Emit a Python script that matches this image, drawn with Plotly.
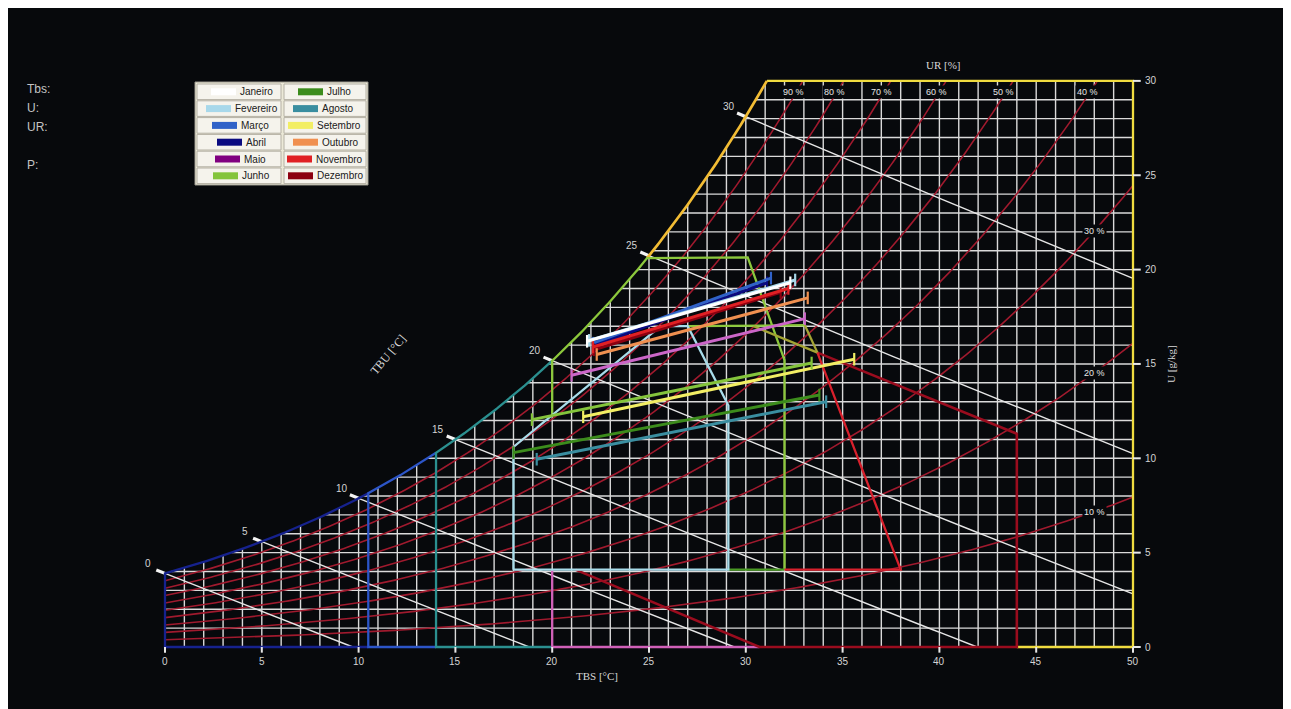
import numpy as np
import plotly.graph_objects as go

# ---------------- data ----------------
months = ["Janeiro", "Fevereiro", "Março", "Abril", "Maio", "Junho",
          "Julho", "Agosto", "Setembro", "Outubro", "Novembro", "Dezembro"]
month_colors = ["#ffffff", "#a8d8ea", "#3062c8", "#0a0a80", "#800080", "#84c43c",
                "#3c8c1c", "#3a8ea0", "#f2ee64", "#f09050", "#e02024", "#8c0010"]
month_line_colors = ["#ffffff", "#a8d8ea", "#3062c8", "#0a0a80", "#cc66c8", "#84c43c",
                     "#3c8c1c", "#3a8ea0", "#f2ee64", "#f09050", "#e02024", "#8c0010"]
tbs_min = [21.8, 21.9, 22.1, 22.2, 21.0, 18.95, 18.0, 19.2, 21.6, 22.3, 22.1, 22.15]
u_at_min = [16.2, 16.25, 16.1, 16.0, 14.4, 12.05, 10.3, 9.95, 12.2, 15.5, 15.9, 15.75]
tbs_max = [32.3, 32.55, 31.3, 31.1, 33.05, 33.4, 33.8, 34.15, 35.6, 33.2, 32.2, 31.8]
u_at_max = [19.3, 19.45, 19.55, 19.3, 17.4, 15.05, 13.35, 13.0, 15.25, 18.5, 19.0, 18.8]

tbs_ticks = [0, 5, 10, 15, 20, 25, 30, 35, 40, 45, 50]
u_ticks = [0, 5, 10, 15, 20, 25, 30]
tbu_values = [0, 5, 10, 15, 20, 25, 30]
rh_values = [10, 20, 30, 40, 50, 60, 70, 80, 90]
top_labels = ["Tbs:", "U:", "UR:", "", "P:"]

# zone outlines (TBS °C, U g/kg)
comfort_t = [18.0, 18.0, 25.6, 27.0, 29.1, 29.1, 18.0]
comfort_u = [4.1, 10.6, 17.0, 17.0, 12.8, 4.1, 4.1]
vent_t = [30.1, 32.0, 32.0]
vent_u = [20.65, 15.2, 4.1]
vent_h_t = [27.0, 33.05]
vent_h_u = [17.0, 17.05]
green_t = [29.1, 32.0]
green_u = [4.1, 4.1]
olive1_t = [30.4, 33.7]
olive1_u = [17.0, 15.6]
olive2_t = [33.05, 33.7]
olive2_u = [17.05, 15.6]
ac_t = [32.0, 38.0, 33.7]
ac_u = [4.1, 4.1, 15.6]
evap_t = [33.7, 44.0, 44.0, 30.7, 21.2]
evap_u = [15.6, 11.3, 0.0, 0.0, 4.1]
humid_t = [20.0, 20.0, 30.7]
humid_u = [4.1, 0.0, 0.0]
yellow_t = [44.0, 50.0, 50.0]
yellow_u = [0.0, 0.0, 30.0]

P_ATM = 98.0  # kPa

# ---------------- psychrometric scale ----------------
def pv_sat(t):
    t = np.asarray(t, dtype=float)
    return 0.61094 * np.exp(17.625 * t / (t + 243.04))

def u_sat(t):
    pv = pv_sat(t)
    return 622.0 * pv / (P_ATM - pv)

def t_of_pv(pv):
    a = np.log(pv / 0.61094)
    return 243.04 * a / (17.625 - a)

def t_sat(u):
    return t_of_pv(u * P_ATM / (622.0 + u))

def u_rh(t, phi):
    pv = phi * pv_sat(t)
    return 622.0 * pv / (P_ATM - pv)

def u_wb(t, tw):
    ws = u_sat(tw) / 1000.0
    w = ((2501 - 2.326 * tw) * ws - 1.006 * (t - tw)) / (2501 + 1.86 * t - 4.186 * tw)
    return w * 1000.0

# pixel frame (figure origin is offset 8px by the page body margin)
W, H = 1291, 709
OFF = 8
X0PX, XS = 165.0 - OFF, 19.36
Y0PX, YS = 647.0 - OFF, 18.87
xrange_ = [(0 - X0PX) / XS, (W - X0PX) / XS]
yrange_ = [(Y0PX - H) / YS, (Y0PX - 0) / YS]

fig = go.Figure()

def add_line(xs, ys, color, width, mode="lines", **kw):
    fig.add_trace(go.Scatter(x=list(xs), y=list(ys), mode=mode,
                             line=dict(color=color, width=width),
                             hoverinfo="skip", showlegend=False, **kw))

# ---- grid ----
gx, gy = [], []
for t in range(1, 50):
    top = min(float(u_sat(t)), 30.0)
    gx += [t, t, None]
    gy += [0, top, None]
for u in range(1, 30):
    x0 = max(0.0, float(t_sat(u)))
    gx += [x0, 50, None]
    gy += [u, u, None]
add_line(gx, gy, "#dadada", 1.4)

# ---- RH curves ----
T_TOP = float(t_sat(30.0))
for rh in rh_values:
    phi = rh / 100.0
    tt = np.linspace(0, 50, 401)
    uu = u_rh(tt, phi)
    m = uu <= 30
    xs = list(tt[m]); ys = list(uu[m])
    if not m.all():
        tc = float(t_of_pv(30.0 * P_ATM / 652.0 / phi))
        xs.append(tc); ys.append(30.0)
    add_line(xs, ys, "#a01a2e", 1.6)

# ---- wet-bulb lines ----
for tw in tbu_values:
    ws = float(u_sat(tw)) / 1000.0
    tend = tw + (2501 - 2.326 * tw) * ws / 1.006
    tend = min(tend, 50.0)
    tt = np.linspace(tw, tend, 60)
    uu = np.maximum(u_wb(tt, tw), 0)
    add_line(tt, uu, "#e6e6e6", 1.4)
    add_line([tw - 0.45, tw], [float(u_wb(tw - 0.45, tw)), float(u_sat(tw))], "#f4f4f4", 3.2)

# ---- zones ----
def sat_seg(t0, t1, n=60):
    tt = np.linspace(t0, t1, n)
    return list(tt), list(u_sat(tt))

ZW = 2.3
sx, sy = sat_seg(0, 10.5)
add_line([10.5, 0, 0] + sx, [0, 0, float(u_sat(0))] + sy, "#16228e", ZW)
sx, sy = sat_seg(10.5, 14)
add_line([14, 10.5, 10.5] + sx, [0, 0, float(u_sat(10.5))] + sy, "#2c55c8", ZW)
sx, sy = sat_seg(14, 20)
add_line([20, 14, 14] + sx, [0, 0, float(u_sat(14))] + sy, "#2b9090", ZW)
add_line(humid_t, humid_u, "#d060b8", ZW)
sx, sy = sat_seg(T_TOP, 24.9)
add_line(yellow_t + [T_TOP], yellow_u + [30.0], "#f0dc40", ZW)
add_line(sx, sy, "#f2bc34", ZW + 0.4)
add_line(evap_t, evap_u, "#9a0c1e", ZW + 0.3)
sx, sy = sat_seg(20, 24.9)
add_line([20, 20] + sx + vent_t, [12.2, float(u_sat(20))] + sy + vent_u, "#8cc83c", ZW)
add_line(vent_h_t, vent_h_u, "#8cc83c", ZW)
add_line(green_t, green_u, "#4a9a24", ZW)
add_line(olive1_t, olive1_u, "#a4a434", ZW)
add_line(olive2_t, olive2_u, "#a4a434", ZW)
add_line(ac_t, ac_u, "#d8202c", ZW)
add_line(comfort_t, comfort_u, "#a8dcea", ZW)

# ---- axis ticks ----
tx, ty = [], []
for t in tbs_ticks:
    tx += [t, t, None]; ty += [0, -0.3, None]
add_line(tx, ty, "#e8e8e8", 2)
rx, ry = [], []
for u in u_ticks:
    rx += [50, 50.4, None]; ry += [u, u, None]
add_line(rx, ry, "#e8e8e8", 2)

# ---- monthly lines ----
order = [3, 2, 11, 10, 9, 4, 7, 6, 8, 5, 1, 0]
for i in order:
    fig.add_trace(go.Scatter(
        x=[tbs_min[i], tbs_max[i]], y=[u_at_min[i], u_at_max[i]],
        mode="lines+markers", name=months[i],
        line=dict(color=month_line_colors[i], width=3),
        marker=dict(symbol="line-ns", size=9,
                    line=dict(color=month_line_colors[i], width=2.2)),
        hoverinfo="skip", showlegend=False))

ann = []
LBL = dict(family="Liberation Sans, Arial", size=10, color="#d4d4d4")
for t in tbs_ticks:
    ann.append(dict(x=t, y=0, text=str(t), showarrow=False, yshift=-14, font=LBL))
for u in u_ticks:
    ann.append(dict(x=50, y=u, text=str(u), showarrow=False, xanchor="left",
                    xshift=10, font=LBL))
for tw in tbu_values:
    ann.append(dict(x=tw, y=float(u_sat(tw)), text=str(tw), showarrow=False,
                    xshift=-17, yshift=10, font=LBL))
RHF = dict(family="Liberation Sans, Arial", size=9, color="#e6e6e6")
for rh in rh_values:
    phi = rh / 100.0
    if rh >= 40:
        uy = 29.4
        tx_ = float(t_of_pv(uy * P_ATM / (622 + uy) / phi))
        ann.append(dict(x=tx_, y=uy, text=f"{rh} %", showarrow=False, xshift=-3,
                        font=RHF, bgcolor="#07090c"))
    else:
        tx_ = 48.0
        ann.append(dict(x=tx_, y=float(u_rh(tx_, phi)), text=f"{rh} %", showarrow=False,
                        font=RHF, bgcolor="#07090c"))

SER = dict(family="Liberation Serif, Times New Roman", size=11, color="#d8d8d8")
ann.append(dict(x=22.3, y=0, text="TBS [°C]", showarrow=False, yshift=-29, font=SER))
ann.append(dict(x=50, y=15, text="U [g/kg]", showarrow=False, xshift=38, textangle=-90, font=SER))
ann.append(dict(x=40.2, y=30, text="UR [%]", showarrow=False, yshift=16, font=SER))
ann.append(dict(x=11.5, y=15.5, text="TBU [°C]", showarrow=False, textangle=-50,
                font=dict(family="Liberation Serif, Times New Roman", size=12, color="#d8d8d8")))

def px_x(px):
    return (px - OFF) / W

def px_y(py):
    return 1 - (py - OFF) / H

for k, s in enumerate(top_labels):
    if s:
        ann.append(dict(xref="paper", yref="paper", x=px_x(25), y=px_y(89 + k * 19),
                        text=s, showarrow=False, xanchor="left", yanchor="middle",
                        font=dict(family="Liberation Sans, Arial", size=12, color="#c4c4c4")))

# ---- legend box ----
shapes = []
def pbox(x0, y0, x1, y1, fill, line, lw=1):
    shapes.append(dict(type="rect", xref="paper", yref="paper",
                       x0=px_x(x0), x1=px_x(x1), y0=px_y(y1), y1=px_y(y0),
                       fillcolor=fill, line=dict(color=line, width=lw), layer="above"))
pbox(195, 82, 368, 185, "#ece9d8", "#9a978c", 1)
col_x = [(197, 281), (284, 366)]
sw_left = [[211, 206, 212, 217, 215, 213], [298, 293, 288, 293, 287, 288]]
row_h = 16.8
for c in range(2):
    for r in range(6):
        i = c * 6 + r
        top = 84 + r * row_h
        pbox(col_x[c][0], top, col_x[c][1], top + row_h - 1.2, "#f5f3ec", "#b4b0a4", 1)
        cy = top + (row_h - 1.2) / 2
        sl = sw_left[c][r]
        pbox(sl, cy - 3.5, sl + 25, cy + 3.5, month_colors[i], month_colors[i], 0)
        ann.append(dict(xref="paper", yref="paper", x=px_x(sl + 26.5), y=px_y(cy),
                        text=months[i], showarrow=False, xanchor="left", yanchor="middle",
                        font=dict(family="Liberation Sans, Arial", size=10, color="#202020")))

fig.update_layout(
    width=W, height=H, margin=dict(l=0, r=0, t=0, b=0),
    paper_bgcolor="#07090c", plot_bgcolor="#07090c",
    xaxis=dict(range=xrange_, visible=False, showgrid=False, zeroline=False),
    yaxis=dict(range=yrange_, visible=False, showgrid=False, zeroline=False),
    annotations=ann, shapes=shapes, showlegend=False,
)
fig.write_html("out.html")
